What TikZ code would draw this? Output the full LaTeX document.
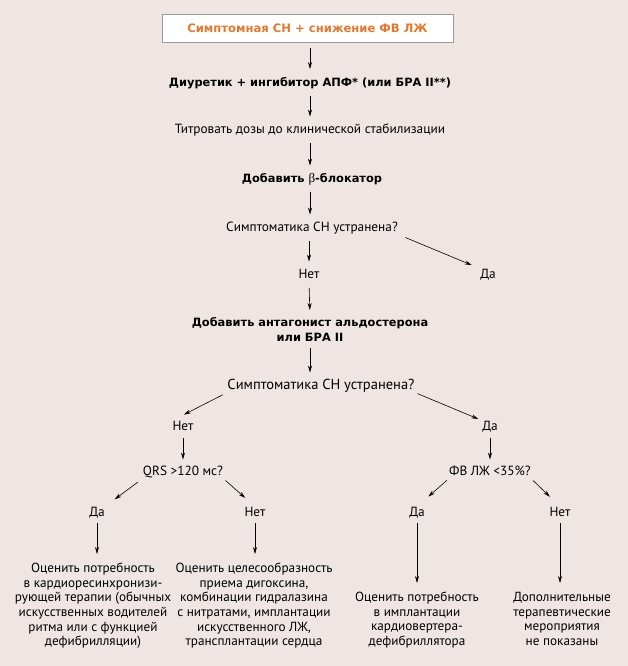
\documentclass[tikz,border=0pt]{standalone}
\usepackage{fontspec}
\setmainfont{PT Sans}
\newfontfamily\heavyfont{DejaVu Sans}
\newfontfamily\grfont{Liberation Serif}
\usetikzlibrary{arrows.meta}

\definecolor{bgpink}{HTML}{EFE6E3}
\definecolor{hdorange}{HTML}{E5792B}
\definecolor{boxgray}{HTML}{9B9B9B}

\tikzset{
  arr/.style={-{Stealth[length=7pt,width=4pt]}, line width=0.6pt},
  vshort/.style={shorten <=6.5pt, shorten >=7pt},
  txt/.style={inner sep=0pt, text height=9.5pt, text depth=3pt, font=\fontsize{13.3}{15}\selectfont},
  boldtxt/.style={txt, font=\fontsize{11.4}{15}\selectfont\heavyfont\bfseries},
  block/.style={inner sep=0pt, align=center, anchor=north, font=\fontsize{13.2}{14.6}\selectfont},
}

\begin{document}
\begin{tikzpicture}[x=1pt, y=-1pt]
    % Background
    \fill[bgpink] (0,0) rectangle (628,666);
    \useasboundingbox (0,0) rectangle (628,666);

    % Start box
    \node[draw=boxgray, fill=white, minimum width=291pt, minimum height=28pt,
          text=hdorange, font=\fontsize{11.6}{14}\selectfont\heavyfont\bfseries] (start) at (307.5,28)
          {Симптомная СН + снижение ФВ ЛЖ};

    % Main column
    \node[boldtxt] (diur) at (310,83) {Диуретик + ингибитор АПФ* (или БРА II**)};
    \node[txt] (titr) at (310,130) {Титровать дозы до клинической стабилизации};
    \node[boldtxt] (beta) at (312,179) {Добавить {\mdseries\grfont\fontsize{13}{15}\selectfont β}-блокатор};
    \node[txt] (sympA) at (312,228) {Симптоматика СН устранена?};
    \node[txt] (noA) at (309,275) {Нет};
    \node[txt] (yesA) at (488,275) {Да};
    \node[block, font=\fontsize{11.4}{15}\selectfont\heavyfont\bfseries] (aldo) at (310,317)
          {Добавить антагонист альдостерона\\или БРА II};
    \node[txt, font=\fontsize{14.5}{16}\selectfont] (sympB) at (321,386) {Симптоматика СН устранена?};

    % Second split
    \node[txt] (noB) at (183,427) {Нет};
    \node[txt] (yesB) at (490,427) {Да};
    \node[txt] (qrs) at (183,472) {QRS >120 мс?};
    \node[txt] (fv) at (490,472) {ФВ ЛЖ <35\%?};
    \node[txt] (yesC) at (97,513) {Да};
    \node[txt] (noC) at (255,513) {Нет};
    \node[txt] (yesD) at (417,513) {Да};
    \node[txt] (noD) at (560,513) {Нет};

    % Final blocks
    \node[block] (crt) at (93,563) {Оценить потребность\\в кардиоресинхронизи-\\рующей терапии (обычных\\искусственных водителей\\ритма или с функцией\\дефибрилляции)};
    \node[block] (dig) at (254,563) {Оценить целесообразность\\приема дигоксина,\\комбинации гидралазина\\с нитратами, имплантации\\искусственного ЛЖ,\\трансплантации сердца};
    \node[block] (icd) at (417,592) {Оценить потребность\\в имплантации\\кардиовертера-\\дефибриллятора};
    \node[block] (none) at (562,592) {Дополнительные\\терапевтические\\мероприятия\\не показаны};

    % Arrows, main column
    \draw[arr, shorten <=6pt, shorten >=7.5pt] (start.south -| diur) -- (diur.north);
    \draw[arr, vshort] (diur) -- (titr);
    \draw[arr, vshort] (titr.south) -- (titr.south |- beta.north);
    \draw[arr, vshort] (beta.south -| titr) -- (titr |- sympA.north);
    \draw[arr, vshort] (sympA.south -| noA) -- (noA.north);
    \draw[arr, shorten <=8pt, shorten >=9pt] (sympA.south east) -- (yesA.north west);
    \draw[arr, vshort] (noA.south) -- (aldo.north);
    \draw[arr, vshort] (aldo.south) -- (aldo.south |- sympB.north);

    % Arrows, second split
    \draw[arr, shorten <=5pt, shorten >=13pt] (sympB.south west) -- (noB.north west);
    \draw[arr, shorten <=3pt, shorten >=4pt] (sympB.south east) -- (yesB.north west);
    \draw[arr, shorten <=4.5pt, shorten >=6pt] (noB) -- (qrs);
    \draw[arr, shorten <=4.5pt, shorten >=6pt] (yesB) -- (fv);
    \draw[arr, shorten <=6pt, shorten >=12pt] (qrs.south west) -- (yesC.north east);
    \draw[arr, shorten <=3pt, shorten >=13pt] (qrs.south east) -- (noC.north);
    \draw[arr, shorten <=3pt, shorten >=15pt] (fv.south west) -- (yesD.north);
    \draw[arr, shorten <=3pt, shorten >=14pt] (fv.south east) -- (noD.north);

    % Arrows to final blocks
    \draw[arr, shorten <=3.5pt, shorten >=9pt] (yesC.south) -- (yesC.south |- crt.north);
    \draw[arr, shorten <=3.5pt, shorten >=9pt] (noC.south) -- (noC.south |- dig.north);
    \draw[arr, shorten <=3.5pt, shorten >=9pt] (yesD.south) -- (yesD.south |- icd.north);
    \draw[arr, shorten <=3.5pt, shorten >=9pt] (noD.south) -- (noD.south |- none.north);
\end{tikzpicture}
\end{document}
